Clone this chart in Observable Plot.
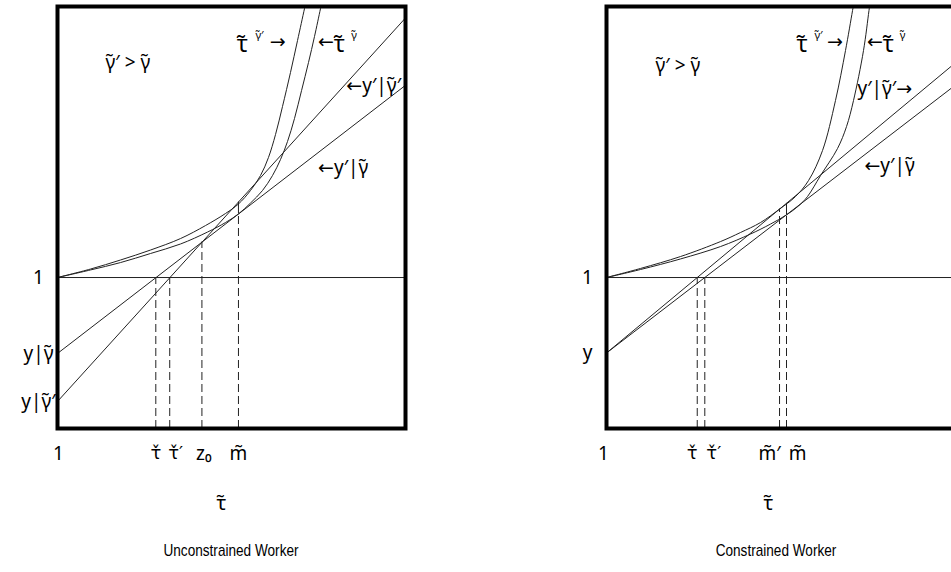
<!DOCTYPE html>
<html>
<head>
<meta charset="utf-8">
<script src="https://cdn.jsdelivr.net/npm/d3@7"></script>
<script src="https://cdn.jsdelivr.net/npm/@observablehq/plot@0.6"></script>
<style>
  html, body { margin: 0; padding: 0; background: #fff; overflow: hidden; width: 951px; height: 572px; position: relative; }
  .panel { position: absolute; top: 0; width: 420px; height: 536px; }
  .panel svg { max-width: none !important; width: 420px; height: 536px; display: block; }
  .caption { position: absolute; top: 541px; transform: translateX(-50%) scaleX(0.8); white-space: nowrap;
    font-family: "Liberation Sans", Arial, sans-serif; font-size: 17px; color: #000; }
</style>
</head>
<body>
<div id="left" class="panel" style="left:0px"></div>
<div id="right" class="panel" style="left:549px"></div>
<div class="caption" style="left:231px">Unconstrained Worker</div>
<div class="caption" style="left:776px">Constrained Worker</div>
<script>
// ---------- Unconstrained worker (left panel) ----------
const leftCurveGammaPrime = [
  [1, 1], [1.379, 1.056], [1.724, 1.116], [2.069, 1.182], [2.414, 1.258], [2.701, 1.344],
  [2.931, 1.424], [3.080, 1.487], [3.218, 1.576], [3.333, 1.675], [3.425, 1.795],
  [3.506, 1.947], [3.586, 2.132], [3.678, 2.358], [3.759, 2.570], [3.839, 2.781], [3.865, 2.85]
];
const leftCurveGamma = [
  [1, 1], [1.379, 1.050], [1.724, 1.099], [2.069, 1.159], [2.414, 1.222], [2.724, 1.301],
  [2.931, 1.364], [3.080, 1.421], [3.218, 1.493], [3.356, 1.576], [3.471, 1.675],
  [3.563, 1.781], [3.644, 1.901], [3.724, 2.053], [3.805, 2.238], [3.885, 2.424],
  [3.954, 2.596], [4.023, 2.781], [4.049, 2.85]
];
const leftLineGamma = [[1, 0.497], [5, 2.273]];       // y|γ̃  → y′|γ̃
const leftLineGammaPrime = [[1, 0.179], [5, 2.719]];  // y|γ̃′ → y′|γ̃′
const leftTickValues = [1, 2.13, 2.29, 2.66, 3.08];
const leftTickLabels = ["1", "τ̌", "τ̌′", "z₀", "m̃"];
const leftDashTops = [1, 1, 1.236, 1.421];            // dashed guides at τ̌, τ̌′, z₀, m̃
const leftSolidSegment = [[3.08, 1.421, 1.500]];      // at m̃, between the two lines
const leftYValues = [1, 0.497, 0.179];
const leftYLabels = ["1", "y|γ̃", "y|γ̃′"];

// ---------- Constrained worker (right panel) ----------
const rightCurveGammaPrime = [
  [1, 1], [1.391, 1.060], [1.851, 1.139], [2.310, 1.238], [2.540, 1.298], [2.770, 1.364],
  [2.989, 1.453], [3.172, 1.536], [3.322, 1.642], [3.483, 1.841], [3.632, 2.172],
  [3.747, 2.503], [3.828, 2.768], [3.853, 2.85]
];
const rightCurveGamma = [
  [1, 1], [1.391, 1.053], [1.851, 1.123], [2.310, 1.205], [2.655, 1.288], [2.885, 1.354],
  [3.069, 1.415], [3.207, 1.474], [3.310, 1.536], [3.460, 1.675], [3.655, 1.854],
  [3.759, 2.000], [3.839, 2.172], [3.954, 2.503], [4.017, 2.768], [4.037, 2.85]
];
const rightLineGammaPrime = [[1, 0.5], [5, 2.417]];   // y′|γ̃′
const rightLineGamma = [[1, 0.5], [5, 2.270]];        // y′|γ̃
const rightTickValues = [1, 2.043, 2.130, 2.989, 3.069];
const rightTickLabels = ["1", "τ̌", "τ̌′", "m̃′", "m̃"];
const rightDashTops = [1, 1, 1.453, 1.415];           // dashed guides at τ̌, τ̌′, m̃′, m̃
const rightSolidSegment = [[3.069, 1.415, 1.491]];
const rightYValues = [1, 0.5];
const rightYLabels = ["1", "y"];

// annotation texts (x, y in data units; text anchored at start)
const leftNotes = [
  {t: "γ̃′ > γ̃", x: 1.552, y: 2.424, s: 19},
  {t: "τ̃", x: 3.060, y: 2.540, s: 23}, {t: "γ̃′", x: 3.275, y: 2.605, s: 11}, {t: "→", x: 3.440, y: 2.563, s: 19},
  {t: "←", x: 3.995, y: 2.563, s: 19}, {t: "τ̃", x: 4.175, y: 2.540, s: 23}, {t: "γ̃", x: 4.375, y: 2.605, s: 11},
  {t: "←y′|γ̃′", x: 4.320, y: 2.272, s: 19},
  {t: "←y′|γ̃", x: 3.995, y: 1.728, s: 19}
];
const rightNotes = [
  {t: "γ̃′ > γ̃", x: 1.563, y: 2.404, s: 19},
  {t: "τ̃", x: 3.185, y: 2.540, s: 23}, {t: "γ̃′", x: 3.390, y: 2.605, s: 11}, {t: "→", x: 3.535, y: 2.563, s: 19},
  {t: "←", x: 3.995, y: 2.563, s: 19}, {t: "τ̃", x: 4.175, y: 2.540, s: 23}, {t: "γ̃", x: 4.370, y: 2.605, s: 11},
  {t: "y′|γ̃′→", x: 3.885, y: 2.252, s: 19},
  {t: "←y′|γ̃", x: 3.965, y: 1.742, s: 19}
];

const FONT = "'Noto Sans', 'DejaVu Sans', sans-serif";
const INK = "#222";
const CARON = "\u030C";

function tickMarks(t) {
  const common = {x: "v", y: 0, dy: 25, fontSize: 19, lineAnchor: "middle", fill: "#000", text: "label", dx: t.dx};
  // DejaVu Sans stacks the combining caron over τ
  if (t.label.includes(CARON)) return [Plot.text([t], {...common, fontFamily: "'DejaVu Sans', sans-serif", fontSize: 18})];
  return [Plot.text([t], common)];
}

function panel(cfg) {
  const ticks = cfg.tickValues.map((v, i) => ({v, label: cfg.tickLabels[i], dx: cfg.tickDx[i]}));
  const dashes = cfg.tickValues.slice(1).map((v, i) => ({x: v, top: cfg.dashTops[i]}));
  const ylabs = cfg.yValues.map((v, i) => ({v, label: cfg.yLabels[i]}));
  const seg = cfg.solid.map(d => ({x: d[0], y1: d[1], y2: d[2]}));
  const pt = a => a.map(([x, y]) => ({x, y}));
  return Plot.plot({
    width: 420, height: 536,
    marginLeft: 57, marginRight: 15, marginTop: 6, marginBottom: 108,
    x: {domain: [1, 5], axis: null},
    y: {domain: [0, 2.795], axis: null},
    style: {fontFamily: FONT, background: "white", overflow: "visible"},
    marks: [
      Plot.ruleY([1], {stroke: INK, strokeWidth: 1}),
      Plot.ruleX(dashes, {x: "x", y1: 0, y2: "top", stroke: INK, strokeWidth: 1, strokeDasharray: "8,4"}),
      Plot.ruleX(seg, {x: "x", y1: "y1", y2: "y2", stroke: INK, strokeWidth: 1}),
      Plot.line(pt(cfg.lineA), {x: "x", y: "y", stroke: INK, strokeWidth: 1, clip: true}),
      Plot.line(pt(cfg.lineB), {x: "x", y: "y", stroke: INK, strokeWidth: 1, clip: true}),
      Plot.line(pt(cfg.curveA), {x: "x", y: "y", curve: "catmull-rom", stroke: INK, strokeWidth: 1, clip: true}),
      Plot.line(pt(cfg.curveB), {x: "x", y: "y", curve: "catmull-rom", stroke: INK, strokeWidth: 1, clip: true}),
      Plot.frame({stroke: "#000", strokeWidth: 4}),
      ...ticks.flatMap(tickMarks),
      Plot.text(ylabs, {x: 1, y: "v", text: "label", dx: -19, fontSize: 19, textAnchor: "middle", lineAnchor: "middle", fill: "#000"}),
      Plot.text(cfg.notes, {x: "x", y: "y", text: "t", fontSize: "s", textAnchor: "start", lineAnchor: "middle", fill: "#000"}),
      Plot.text(["τ̃"], {frameAnchor: "bottom", dx: cfg.labelDx, dy: 75, fontSize: 20, lineAnchor: "middle", fill: "#000"})
    ]
  });
}

// per-label horizontal nudges are styling, kept out of the data arrays
const left = panel({
  curveA: leftCurveGammaPrime, curveB: leftCurveGamma,
  lineA: leftLineGamma, lineB: leftLineGammaPrime,
  tickValues: leftTickValues, tickLabels: leftTickLabels, tickDx: [1, 0, 6, 2, 0],
  dashTops: leftDashTops, solid: leftSolidSegment,
  yValues: leftYValues, yLabels: leftYLabels, notes: leftNotes, labelDx: -10
});
const right = panel({
  curveA: rightCurveGammaPrime, curveB: rightCurveGamma,
  lineA: rightLineGammaPrime, lineB: rightLineGamma,
  tickValues: rightTickValues, tickLabels: rightTickLabels, tickDx: [-3, -5, 9, -10, 11],
  dashTops: rightDashTops, solid: rightSolidSegment,
  yValues: rightYValues, yLabels: rightYLabels, notes: rightNotes, labelDx: -12
});
document.getElementById("left").appendChild(left);
document.getElementById("right").appendChild(right);
</script>
</body>
</html>
